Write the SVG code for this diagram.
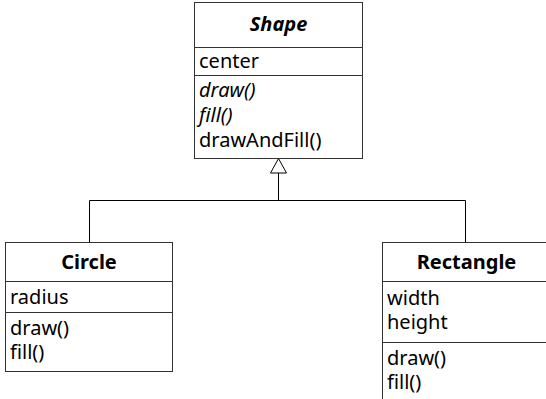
<svg xmlns="http://www.w3.org/2000/svg" width="546" height="399" viewBox="0 0 546 399">
<style>
.box{fill:#fff;stroke:#333;stroke-width:1}
.sep{stroke:#333;stroke-width:1}
text{font-family:"Noto Sans","Open Sans",sans-serif;font-size:20px;fill:#000}
.title{font-weight:bold;text-anchor:middle}
.it{font-style:italic}
.conn{fill:none;stroke:#000;stroke-width:1}
</style>
<g id="connectors">
<polyline class="conn" points="89.5,242 89.5,200.5 465.5,200.5 465.5,242"/>
<line class="conn" x1="278.5" y1="173" x2="278.5" y2="200.5"/>
<polygon points="278.5,158.5 270.5,173 286.5,173" fill="#fff" stroke="#000" stroke-width="1"/>
</g>
<g id="Shape">
<rect class="box" x="194.5" y="2.5" width="168" height="156"/>
<line class="sep" x1="194.5" y1="47.5" x2="362.5" y2="47.5"/>
<line class="sep" x1="194.5" y1="75.5" x2="362.5" y2="75.5"/>
<text class="title it" x="278.5" y="31">Shape</text>
<text x="199" y="68">center</text>
<text class="it" x="199" y="97">draw()</text>
<text class="it" x="199" y="122">fill()</text>
<text x="199" y="147">drawAndFill()</text>
</g>
<g id="Circle">
<rect class="box" x="5.5" y="242.5" width="167" height="129"/>
<line class="sep" x1="5.5" y1="281.5" x2="172.5" y2="281.5"/>
<line class="sep" x1="5.5" y1="312.5" x2="172.5" y2="312.5"/>
<text class="title" x="89" y="269">Circle</text>
<text x="10" y="304">radius</text>
<text x="10" y="335">draw()</text>
<text x="10" y="359">fill()</text>
</g>
<g id="Rectangle">
<rect class="box" x="382.5" y="242.5" width="168" height="162"/>
<line class="sep" x1="382.5" y1="281.5" x2="550.5" y2="281.5"/>
<line class="sep" x1="382.5" y1="342.5" x2="550.5" y2="342.5"/>
<text class="title" x="466.5" y="269">Rectangle</text>
<text x="387" y="305">width</text>
<text x="387" y="329">height</text>
<text x="387" y="365">draw()</text>
<text x="387" y="389">fill()</text>
</g>
</svg>
